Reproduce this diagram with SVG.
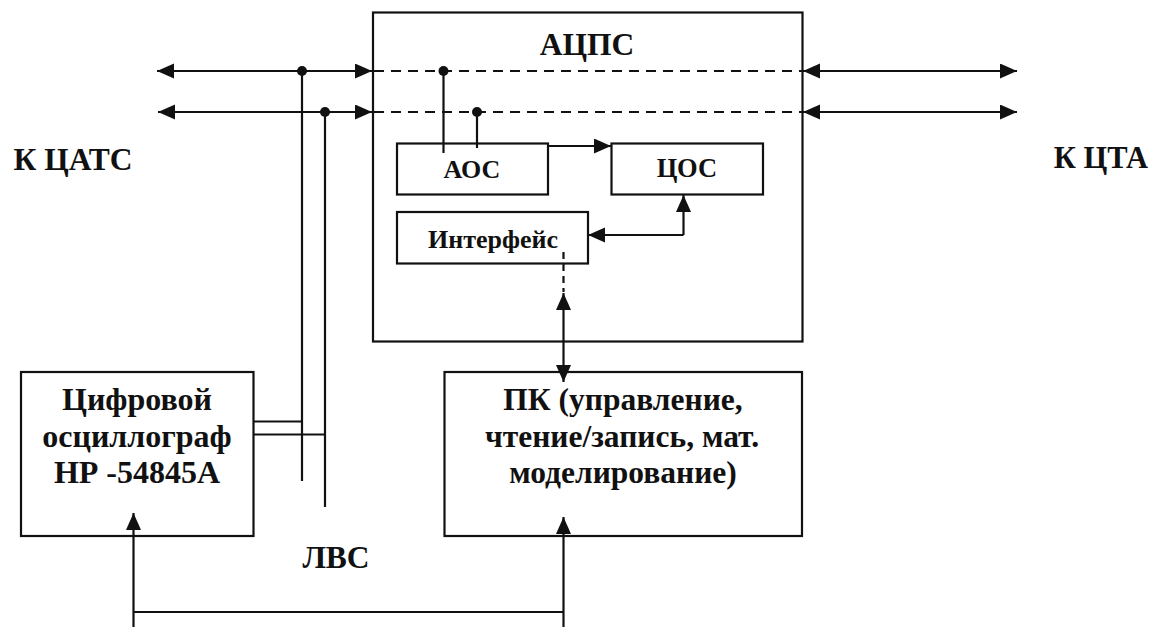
<svg xmlns="http://www.w3.org/2000/svg" width="1157" height="627" viewBox="0 0 1157 627">
<style>
.box{fill:none;stroke:#111;stroke-width:2.2}
.ln{fill:none;stroke:#111;stroke-width:2.2}
.dash{fill:none;stroke:#111;stroke-width:2.2;stroke-dasharray:10 7}
.t{font-family:"Liberation Serif","Times New Roman",serif;font-weight:bold;fill:#111;text-anchor:middle}
.dot{fill:#111}
</style>
<defs>
<marker id="ah" markerUnits="userSpaceOnUse" markerWidth="18" markerHeight="16" refX="17" refY="7.5" orient="auto-start-reverse" viewBox="0 0 18 16">
<path d="M0,0 L17,7.5 L0,15 z" fill="#111"/>
</marker>
</defs>
<rect width="1157" height="627" fill="#fff"/>
<g id="labels">
<text class="t" x="73" y="170" font-size="31.5">К ЦАТС</text>
<text class="t" x="1101" y="168" font-size="30.5">К ЦТА</text>
<text class="t" x="336" y="568" font-size="31.5">ЛВС</text>
</g>
<g id="acps">
<rect class="box" x="373" y="12.5" width="429.5" height="329"/>
<text class="t" x="587" y="55" font-size="31.5">АЦПС</text>
</g>
<g id="aos">
<rect class="box" x="397" y="143.5" width="151" height="51"/>
<text class="t" x="472" y="178" font-size="26">АОС</text>
</g>
<g id="tsos">
<rect class="box" x="611.5" y="143.5" width="151.5" height="51"/>
<text class="t" x="687" y="177" font-size="26.5">ЦОС</text>
</g>
<g id="interface">
<rect class="box" x="397" y="212" width="191" height="51.5"/>
<text class="t" x="493" y="248" font-size="26">Интерфейс</text>
</g>
<g id="oscillograph">
<rect class="box" x="21" y="372" width="232.5" height="164"/>
<text class="t" x="137" y="410" font-size="32">Цифровой</text>
<text class="t" x="137" y="447" font-size="32">осциллограф</text>
<text class="t" x="137" y="483" font-size="32">НР -54845А</text>
</g>
<g id="pc">
<rect class="box" x="444.5" y="372" width="357.5" height="164"/>
<text class="t" x="623" y="410" font-size="31.5">ПК (управление,</text>
<text class="t" x="622" y="447" font-size="31.5">чтение/запись, мат.</text>
<text class="t" x="623" y="483" font-size="31.5">моделирование)</text>
</g>
<g id="connectors">
<line class="ln" x1="157" y1="71" x2="372" y2="71" marker-start="url(#ah)" marker-end="url(#ah)"/>
<line class="ln" x1="158" y1="112" x2="372" y2="112" marker-start="url(#ah)" marker-end="url(#ah)"/>
<line class="dash" x1="374" y1="71" x2="802" y2="71"/>
<line class="dash" x1="374" y1="112" x2="802" y2="112"/>
<line class="ln" x1="803" y1="71" x2="1017" y2="71" marker-start="url(#ah)" marker-end="url(#ah)"/>
<line class="ln" x1="803" y1="112" x2="1017" y2="112" marker-start="url(#ah)" marker-end="url(#ah)"/>
<circle class="dot" cx="302" cy="71" r="5"/>
<circle class="dot" cx="325" cy="112" r="5"/>
<circle class="dot" cx="443.5" cy="71" r="5"/>
<circle class="dot" cx="477" cy="112" r="5"/>
<line class="ln" x1="443.5" y1="71" x2="443.5" y2="153"/>
<line class="ln" x1="477" y1="112" x2="477" y2="148"/>
<line class="ln" x1="302" y1="71" x2="302" y2="481"/>
<line class="ln" x1="325" y1="112" x2="325" y2="507"/>
<line class="ln" x1="253.5" y1="421.5" x2="302" y2="421.5"/>
<line class="ln" x1="253.5" y1="434.5" x2="325" y2="434.5"/>
<line class="ln" x1="548" y1="146" x2="611" y2="146" marker-end="url(#ah)"/>
<line class="ln" x1="683.5" y1="235" x2="683.5" y2="195" marker-end="url(#ah)"/>
<line class="ln" x1="683.5" y1="235" x2="588" y2="235" marker-end="url(#ah)"/>
<line class="dash" x1="563.5" y1="252" x2="563.5" y2="292" style="stroke-dasharray:7 5"/>
<line class="ln" x1="563.5" y1="293" x2="563.5" y2="382" marker-start="url(#ah)" marker-end="url(#ah)"/>
<line class="ln" x1="133.5" y1="627" x2="133.5" y2="513" marker-end="url(#ah)"/>
<line class="ln" x1="563.5" y1="627" x2="563.5" y2="517" marker-end="url(#ah)"/>
<line class="ln" x1="133.5" y1="612" x2="563.5" y2="612"/>
</g>
</svg>
